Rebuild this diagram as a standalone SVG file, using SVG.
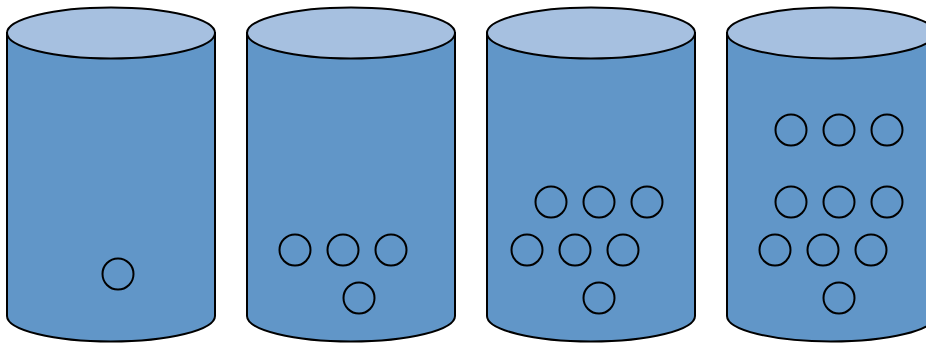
<svg xmlns="http://www.w3.org/2000/svg" width="926" height="343" viewBox="0 0 926 343">
<style>
.body{fill:#6196c8;stroke:#000;stroke-width:2}
.top{fill:#a6c0e0;stroke:#000;stroke-width:2}
.b{fill:none;stroke:#000;stroke-width:2}
</style>
<defs>
<g id="cyl">
<path class="body" d="M0,33 L0,316 A104,25.5 0 0 0 208,316 L208,33 Z"/>
<ellipse class="top" cx="104" cy="33" rx="104" ry="25.5"/>
</g>
</defs>
<g id="cylinder1" transform="translate(7,0)"><use href="#cyl"/></g>
<g id="cylinder2" transform="translate(247,0)"><use href="#cyl"/></g>
<g id="cylinder3" transform="translate(487,0)"><use href="#cyl"/></g>
<g id="cylinder4" transform="translate(727,0)"><use href="#cyl"/></g>
<g id="balls1">
<circle class="b" cx="118" cy="274" r="15.5"/>
</g>
<g id="balls2">
<circle class="b" cx="295" cy="250" r="15.5"/>
<circle class="b" cx="343" cy="250" r="15.5"/>
<circle class="b" cx="391" cy="250" r="15.5"/>
<circle class="b" cx="359" cy="298" r="15.5"/>
</g>
<g id="balls3">
<circle class="b" cx="551" cy="202" r="15.5"/>
<circle class="b" cx="599" cy="202" r="15.5"/>
<circle class="b" cx="647" cy="202" r="15.5"/>
<circle class="b" cx="527" cy="250" r="15.5"/>
<circle class="b" cx="575" cy="250" r="15.5"/>
<circle class="b" cx="623" cy="250" r="15.5"/>
<circle class="b" cx="599" cy="298" r="15.5"/>
</g>
<g id="balls4">
<circle class="b" cx="791" cy="130" r="15.5"/>
<circle class="b" cx="839" cy="130" r="15.5"/>
<circle class="b" cx="887" cy="130" r="15.5"/>
<circle class="b" cx="791" cy="202" r="15.5"/>
<circle class="b" cx="839" cy="202" r="15.5"/>
<circle class="b" cx="887" cy="202" r="15.5"/>
<circle class="b" cx="775" cy="250" r="15.5"/>
<circle class="b" cx="823" cy="250" r="15.5"/>
<circle class="b" cx="871" cy="250" r="15.5"/>
<circle class="b" cx="839" cy="298" r="15.5"/>
</g>
</svg>
